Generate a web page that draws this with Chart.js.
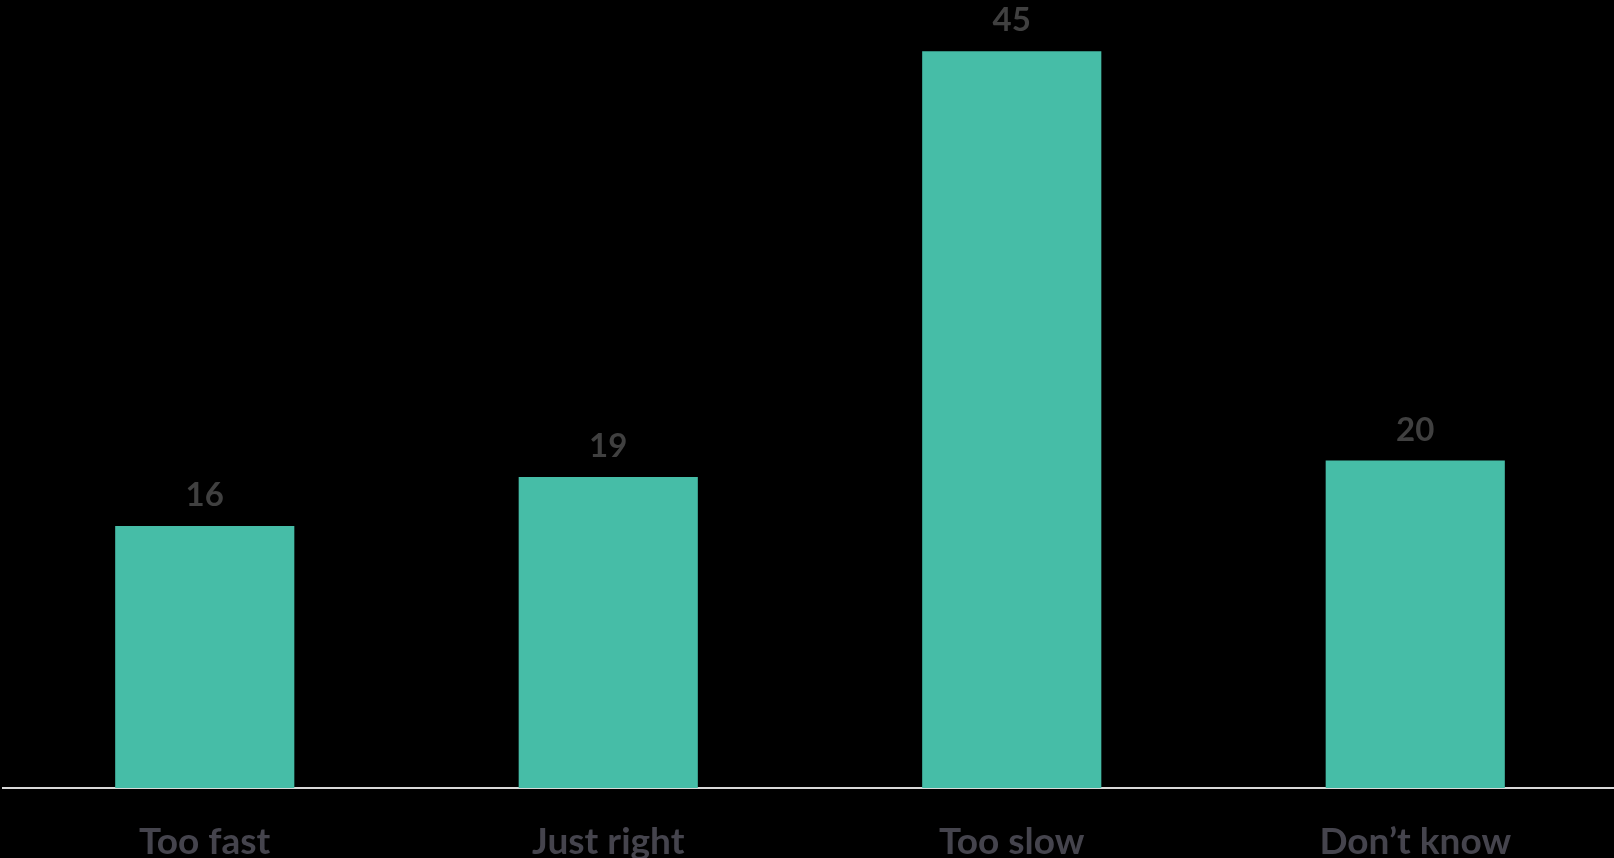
<!DOCTYPE html>
<html>
<head>
<meta charset="utf-8">
<script src="https://cdn.jsdelivr.net/npm/chart.js@4/dist/chart.umd.min.js"></script>
<style>
  html, body { margin: 0; padding: 0; background: #000; overflow: hidden; }
  #wrap { width: 1614px; height: 858px; position: relative; overflow: hidden; }
  canvas { display: block; }
</style>
</head>
<body>
<div id="wrap"><canvas id="c" width="1618" height="858"></canvas></div>
<script>
const categories = ["Too fast", "Just right", "Too slow", "Don\u2019t know"];
const values = [16, 19, 45, 20];

const valueLabels = {
  id: 'valueLabels',
  afterDatasetsDraw(chart) {
    const ctx = chart.ctx;
    const meta = chart.getDatasetMeta(0);
    ctx.save();
    ctx.font = 'bold 33px Lato';
    ctx.fillStyle = '#404040';
    ctx.textAlign = 'center';
    ctx.textBaseline = 'alphabetic';
    meta.data.forEach((bar, i) => {
      ctx.fillText(String(values[i]), bar.x, bar.y - 20);
    });
    ctx.restore();
  }
};

new Chart(document.getElementById('c'), {
  type: 'bar',
  data: {
    labels: categories,
    datasets: [{
      data: values,
      backgroundColor: '#46BDA7',
      borderWidth: 0,
      barPercentage: 0.444,
      categoryPercentage: 1.0
    }]
  },
  options: {
    responsive: false,
    animation: false,
    layout: { padding: { left: 3, right: 1, top: 2, bottom: 0 } },
    plugins: { legend: { display: false }, tooltip: { enabled: false } },
    scales: {
      x: {
        grid: { display: false, drawTicks: false },
        border: { display: true, color: '#d9d9d9', width: 2 },
        ticks: {
          color: '#45444d',
          font: { family: 'Lato', size: 37, weight: 'bold' },
          padding: 32,
          maxRotation: 0
        },
        afterFit(scale) { scale.height = 70; }
      },
      y: {
        display: false,
        min: 0,
        max: 48
      }
    }
  },
  plugins: [valueLabels]
});
</script>
</body>
</html>
